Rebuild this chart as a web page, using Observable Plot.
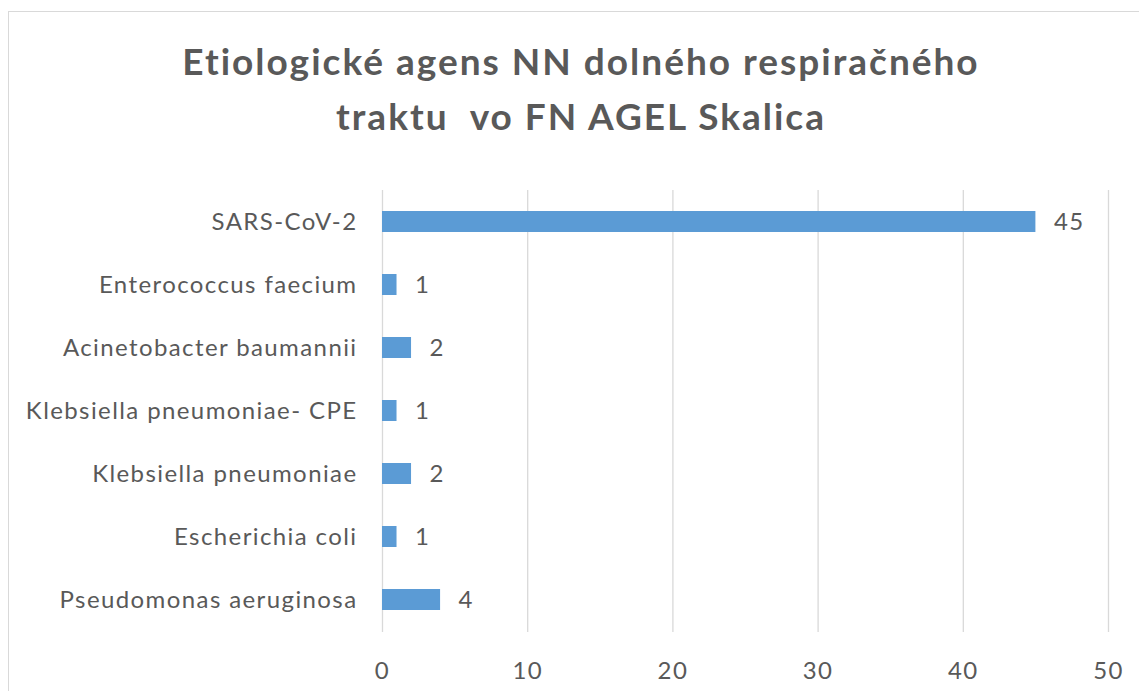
<!DOCTYPE html>
<html>
<head>
<meta charset="utf-8">
<script src="https://cdn.jsdelivr.net/npm/d3@7"></script>
<script src="https://cdn.jsdelivr.net/npm/@observablehq/plot@0.6"></script>
<style>
  html, body { margin: 0; padding: 0; background: #fff; overflow: hidden; width: 1139px; height: 691px; }
  #frame { position: absolute; left: 8px; top: 11px; width: 1300px; height: 900px; border: 1.5px solid #d9d9d9; box-sizing: border-box; }
  #title { position: absolute; left: 0; top: 0; width: 1162px; height: 180px; text-align: center; font-family: Lato, sans-serif; font-weight: bold; font-size: 37px; letter-spacing: 2px; color: #595959; white-space: pre; }
  #title div { position: absolute; left: 0; width: 100%; }
  #chart { position: absolute; left: 0; top: 180px; }
  #chart svg text { letter-spacing: 1.4px; }
</style>
</head>
<body>
<div id="frame"></div>
<div id="title"><div style="top:38px">Etiologické agens NN dolného respiračného</div><div style="top:93px">traktu  vo FN AGEL Skalica</div></div>
<div id="chart"></div>
<script>
const categories = [
  "SARS-CoV-2",
  "Enterococcus faecium",
  "Acinetobacter baumannii",
  "Klebsiella pneumoniae- CPE",
  "Klebsiella pneumoniae",
  "Escherichia coli",
  "Pseudomonas aeruginosa"
];
const counts = [45, 1, 2, 1, 2, 1, 4];
const xTicks = [0, 10, 20, 30, 40, 50];

const data = categories.map((c, i) => ({category: c, count: counts[i]}));
const textColor = "#595959";

const plot = Plot.plot({
  width: 1139,
  height: 511,
  marginLeft: 382,
  marginRight: 31,
  marginTop: 10,
  marginBottom: 59,
  style: {fontFamily: "Lato, sans-serif", fontSize: "24px", color: textColor, background: "transparent"},
  x: {domain: [0, 50], ticks: xTicks, label: null, tickSize: 0, tickPadding: 29},
  y: {domain: categories, label: null, tickSize: 0, tickPadding: 25, paddingInner: 0.66, paddingOuter: 0.33},
  marks: [
    Plot.ruleX(xTicks, {stroke: "#d9d9d9", strokeWidth: 1.3}),
    Plot.barX(data, {x: "count", y: "category", fill: "#5b9bd5"}),
    Plot.text(data, {x: "count", y: "category", text: d => String(d.count), textAnchor: "start", dx: 18, fill: textColor, fontSize: 24}),
    Plot.axisX({ticks: xTicks, tickSize: 0, tickPadding: 29, fontSize: 24, fill: textColor, label: null}),
    Plot.axisY({tickSize: 0, tickPadding: 25, fontSize: 24, fill: textColor, label: null})
  ]
});
document.getElementById("chart").appendChild(plot);
</script>
</body>
</html>
